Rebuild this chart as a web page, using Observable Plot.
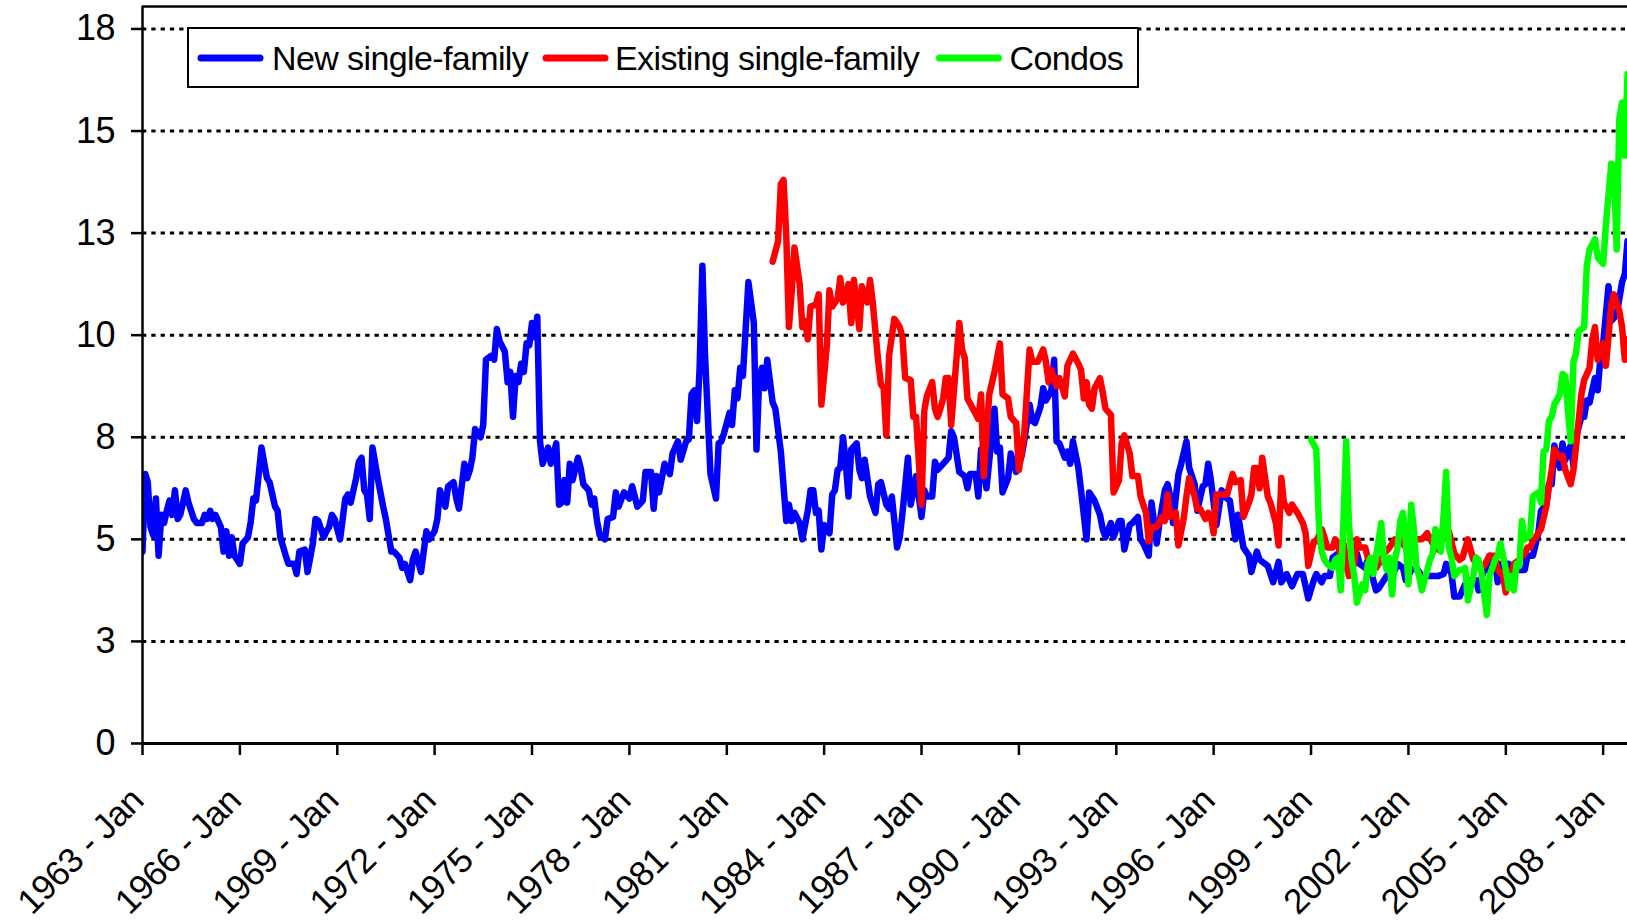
<!DOCTYPE html>
<html>
<head>
<meta charset="utf-8">
<script src="https://cdn.jsdelivr.net/npm/d3@7"></script>
<script src="https://cdn.jsdelivr.net/npm/@observablehq/plot@0.6"></script>
<style>
  html, body { margin: 0; padding: 0; background: #fff; }
  #chart { width: 1627px; height: 922px; overflow: hidden; }
</style>
</head>
<body>
<div id="chart"></div>
<script>
// Monthly series; first element of each pair = months since Jan 1963, second = value
const START_YEAR = 1963;
const END_MONTH = 549; // right edge of the visible plot (Oct 2008)

const newSingleFamily = [
[0,4.7],[1,6.6],[2,6.4],[3,5.3],[4,5.1],[5,6.0],[6,4.6],[7,5.6],[8,5.4],[9,5.7],[10,5.95],[11,5.6],[12,6.2],[13,5.5],[14,5.6],[15,5.9],[16,6.2],[17,5.9],[19,5.5],[20,5.4],[22,5.4],[23,5.6],[24,5.5],[25,5.7],[26,5.5],[27,5.6],[29,5.3],[30,4.7],[31,5.2],[32,4.6],[33,5.05],[34,4.6],[36,4.4],[37,4.9],[39,5.05],[40,5.4],[41,6.0],[42,5.95],[44,7.25],[46,6.5],[47,6.4],[49,5.8],[50,5.7],[51,5.05],[53,4.6],[54,4.4],[56,4.4],[57,4.15],[58,4.7],[60,4.75],[61,4.2],[63,4.9],[64,5.5],[65,5.45],[67,5.05],[68,5.2],[69,5.3],[70,5.6],[71,5.5],[73,5.0],[75,6.0],[76,6.1],[77,5.9],[79,6.5],[80,6.9],[81,7.0],[82,6.2],[83,6.1],[84,5.5],[85,7.25],[87,6.5],[89,5.8],[90,5.5],[92,4.7],[93,4.7],[95,4.55],[96,4.3],[97,4.4],[99,4.0],[100,4.5],[101,4.7],[103,4.2],[105,5.2],[106,5.0],
[108,5.2],[109,5.5],[110,6.2],[112,5.8],[113,6.3],[115,6.4],[116,6.0],[117,5.75],[119,6.85],[120,6.5],[121,6.7],[122,7.0],[123,7.7],[125,7.5],[126,7.8],[127,9.4],[129,9.5],[130,9.4],[131,10.15],[132,9.85],[134,9.6],[135,8.85],[136,9.1],[137,8.0],[138,9.0],[139,8.85],[140,9.3],[141,9.1],[142,9.8],[143,9.75],[144,10.3],[145,9.95],[146,10.45],[147,7.4],[148,6.85],[150,7.25],[151,6.85],[153,7.35],[154,5.85],[155,5.9],[156,6.45],[157,5.9],[158,6.85],[159,6.45],[161,7.0],[162,6.75],[163,6.35],[165,6.2],[166,5.85],[167,6.0],[168,5.45],[169,5.1],[171,5.0],[172,5.5],[174,5.55],[175,6.15],[176,5.8],[178,6.15],[180,6.0],[181,6.3],[183,5.8],[185,5.95],[186,6.65],[188,6.65],[189,5.75],[190,6.55],[191,6.15],[193,6.85],[195,6.6],[196,7.1],[198,7.4],[199,6.95],[201,7.4],[202,7.45],[203,8.55],[204,8.65],[205,7.9],[206,9.2],[207,11.7],[208,9.5],[210,6.6],[212,6.0],[213,7.35],[214,7.4],[215,7.6],[217,8.1],
[218,7.8],[219,8.65],[220,8.45],[221,9.2],[222,9.0],[224,11.3],[226,10.3],[227,7.2],[228,8.95],[229,9.2],[230,8.7],[231,9.4],[233,8.35],[234,8.2],[236,7.15],[238,5.45],[239,5.85],[240,5.45],[241,5.65],[243,5.4],[244,5.0],[246,5.7],[247,6.2],[248,6.2],[249,5.65],[250,5.7],[251,4.75],[252,5.35],[254,5.15],[255,6.1],[256,6.2],[257,6.7],[258,6.75],[259,7.5],[260,6.85],[261,6.05],[262,7.2],[264,7.35],[265,6.7],[266,6.5],[267,6.95],[269,6.05],[271,5.65],[272,6.35],[273,6.4],[275,5.85],[276,5.75],[277,6.05],[279,4.8],[280,5.05],[281,5.65],[283,7.0],[284,5.85],[286,6.55],[288,5.55],[289,6.2],[290,6.05],[292,6.05],[293,6.9],[294,6.7],[296,6.85],[298,7.0],[299,7.65],[300,7.5],[302,6.65],[304,6.55],[305,6.25],[306,6.6],[308,6.6],[309,6.05],[310,7.2],[311,6.7],[312,6.25],[315,8.2],[316,7.15],[317,7.25],[318,6.15],[320,6.5],[321,7.1],[323,6.65],[325,7.05],[326,7.4],[328,8.3],
[329,7.9],[330,7.85],[332,8.25],[333,8.7],[334,8.4],[336,8.65],[337,9.4],[338,7.4],[339,7.35],[341,7.0],[342,7.15],[343,6.85],[344,7.4],[346,6.75],[347,6.2],[349,5.0],[350,6.15],[352,5.95],[354,5.6],[355,5.25],[356,5.05],[358,5.4],[359,5.05],[361,5.45],[362,5.45],[363,4.75],[365,5.35],[366,5.4],[368,5.55],[369,5.0],[370,4.9],[372,4.6],[373,5.9],[375,4.9],[376,5.4],[378,6.2],[379,6.35],[380,6.05],[381,5.4],[383,6.6],[384,6.85],[386,7.4],[387,6.75],[389,6.35],[390,5.7],[392,6.3],[393,6.35],[394,6.85],[395,6.45],[397,5.35],[399,6.2],[400,6.05],[402,5.95],[404,5.0],[405,5.6],[407,4.8],[409,4.6],[410,4.2],[412,4.7],[413,4.5],[416,4.35],[418,3.95],[420,4.45],[421,3.95],[423,4.15],[425,3.85],[427,4.15],[429,4.15],[431,3.55],[433,4.0],[434,4.15],[436,3.95],[437,4.1],
[439,4.1],[440,4.55],[442,4.65],[444,4.3],[446,4.5],[448,4.45],[449,4.65],[450,4.4],[452,4.3],[453,4.5],[455,4.0],[456,3.75],[457,3.8],[458,3.9],[460,4.1],[462,4.1],[464,4.4],[466,4.3],[467,4.0],[468,4.1],[469,4.25],[471,4.3],[473,4.1],[475,4.1],[477,4.1],[479,4.1],[481,4.15],[482,4.4],[484,4.15],[485,3.6],[487,3.6],[489,3.9],[491,4.0],[493,4.0],[494,3.75],[496,4.3],
[497,4.25],[498,4.6],[500,4.5],[501,3.95],[502,4.4],[504,4.4],[505,4.4],[506,4.25],[508,4.35],[509,4.25],[511,4.25],[512,4.6],[514,4.6],[516,5.15],[517,5.7],[519,5.85],[520,6.35],[521,6.35],[522,7.3],[524,6.75],[525,7.35],[526,6.95],[528,7.3],[529,6.8],[530,7.5],[532,8.0],[533,8.0],[534,8.4],[535,8.35],[537,8.95],[538,8.65],[539,9.45],[540,9.8],[542,11.2],[543,10.35],[545,10.5],[547,11.3],[548,11.5],[549,12.3]
];

const existingSingleFamily = [
[233,11.8],[235,12.3],[236,13.7],[237,13.8],[238,12.45],[239,10.2],[240,11.05],[241,12.15],[243,11.25],[244,10.2],[245,10.35],[246,9.9],[247,10.7],[249,10.75],[250,11.0],[251,8.3],[253,9.75],[254,11.1],[255,10.7],[257,10.9],[258,11.4],[259,10.8],[261,11.25],[262,10.3],[263,11.35],[265,10.15],[266,11.2],[268,10.8],[269,11.35],[270,10.8],[272,9.35],[273,8.8],[274,8.7],[275,7.55],[276,9.5],[278,10.4],[280,10.2],[281,9.95],[282,8.95],[284,8.9],[285,8.0],[286,8.0],[288,5.85],[289,8.15],[290,8.5],[292,8.85],[293,8.2],[294,8.0],[295,8.2],[296,8.45],[297,8.95],[298,8.95],[299,7.8],[302,10.3],[303,9.65],[304,9.45],[305,8.45],[307,8.2],[309,7.95],[310,8.55],[311,6.55],[313,8.55],[315,9.1],[317,9.8],[318,8.55],[320,8.45],[321,8.0],[323,7.85],[324,6.7],[326,7.55],[328,9.65],
[329,9.35],[331,9.35],[333,9.65],[334,9.35],[335,8.85],[336,9.15],[338,8.75],[339,8.95],[341,8.5],[342,9.25],[344,9.55],[346,9.3],[347,9.15],[348,8.45],[349,8.85],[350,8.3],[351,8.2],[352,8.7],[354,8.95],[355,8.6],[356,8.2],[358,8.05],[359,6.15],[361,6.45],[362,7.35],[363,7.55],[365,7.1],[366,6.55],[368,6.55],[369,6.05],[371,5.65],[372,4.95],[373,5.3],[375,5.3],[377,5.55],[378,5.45],[379,6.1],[380,5.55],[382,5.65],[383,4.85],[385,5.55],[386,6.05],[387,6.5],[389,6.05],[390,5.75],[391,5.75],[393,5.5],[394,5.65],[395,5.55],[396,5.15],[397,6.1],[399,6.1],[401,6.1],[403,6.6],[404,6.4],[406,6.45],[407,5.55],[409,5.9],[410,6.1],[411,6.75],[412,6.75],[413,6.25],[414,7.0],[416,6.05],[417,5.9],[419,5.4],[420,4.85],[421,6.5],[422,5.9],[424,5.65],[425,5.85],[427,5.65],[429,5.4],[430,5.15],[431,4.35],[433,4.95],[434,4.95],[436,5.25],[437,5.05],
[438,4.8],[440,4.8],[441,5.0],[442,4.9],[443,4.55],[444,4.9],[446,4.1],[448,4.4],[449,5.0],[450,4.8],[452,4.8],[453,4.55],[455,4.4],[456,4.3],[458,4.5],[459,4.65],[461,4.8],[463,5.0],[464,4.85],[465,5.0],[467,4.8],[469,4.75],[471,5.0],[473,5.0],[475,5.15],[477,4.9],[479,4.75],[481,5.05],[483,5.2],[485,4.65],[487,4.5],[488,4.55],[490,5.0],[492,4.5],[493,4.55],[495,4.3],
[496,4.35],[498,4.6],[500,4.6],[501,4.25],[503,4.1],[504,3.7],[506,4.15],[507,4.4],[509,4.5],[511,4.65],[512,4.8],[513,4.8],[514,4.95],[516,5.15],[517,5.25],[519,5.8],[520,6.3],[521,6.7],[522,7.2],[523,7.1],[524,7.0],[525,7.05],[526,6.7],[528,6.35],[529,6.7],[530,7.25],[532,8.55],[533,8.9],[535,9.2],[536,9.9],[537,10.2],[538,9.4],[540,9.8],[541,9.25],[542,9.95],[543,10.75],[544,11.0],[546,10.6],[547,10.2],[548,9.4],[549,9.9]
];

const condos = [
[432,7.45],[434,7.2],[435,5.3],[436,4.7],[437,4.5],[438,4.4],[440,4.3],[441,4.5],[442,4.55],[443,3.75],[444,5.45],[445,7.4],[446,5.45],[447,4.5],[448,4.1],[449,3.45],[451,3.9],[452,3.75],[453,4.4],[454,4.55],[455,4.15],[457,5.0],[458,5.4],[459,4.5],[460,4.25],[461,4.55],[462,3.65],[463,4.5],[464,4.8],[465,5.45],[466,5.65],[467,5.0],[468,3.9],[469,5.85],[470,5.3],[471,4.3],[472,4.1],[473,3.75],[475,4.25],[476,4.5],[477,4.65],[478,5.25],[480,4.7],[481,5.6],[482,6.65],[483,4.8],[484,4.55],[485,4.1],[487,4.25],[488,4.25],[489,4.3],[490,3.5],[492,4.1],[493,4.55],[494,4.5],[495,4.2],[497,3.15],[498,4.1],[500,4.5],[501,4.6],[502,4.9],[504,4.25],[505,3.8],[506,4.1],[507,3.75],[508,4.4],[509,4.35],[510,5.45],[511,5.0],[513,5.1],[514,6.05],[516,6.15],[517,5.9],[518,7.15],[519,7.2],[520,7.9],[521,8.0],[522,8.3],[524,8.55],[525,9.05],[526,9.0],[527,8.15],[528,7.4],[529,9.35],[530,9.55],[531,10.1],[533,10.2],[534,11.7],[535,12.1],[537,12.35],[538,11.9],[540,11.75],[541,12.7],[543,14.2],[544,14.15],[545,12.1],[546,15.3],[547,15.7],[548,14.4],[549,16.4]
];

const seriesNames = ["New single-family", "Existing single-family", "Condos"];
const seriesColors = ["#0000ff", "#ff0000", "#00ff00"];

const xTickYears = [1963,1966,1969,1972,1975,1978,1981,1984,1987,1990,1993,1996,1999,2002,2005,2008];
const xTickLabels = ["1963 - Jan","1966 - Jan","1969 - Jan","1972 - Jan","1975 - Jan","1978 - Jan","1981 - Jan","1984 - Jan","1987 - Jan","1990 - Jan","1993 - Jan","1996 - Jan","1999 - Jan","2002 - Jan","2005 - Jan","2008 - Jan"];
const yTicks = [0, 2.5, 5, 7.5, 10, 12.5, 15, 17.5];
const yTickLabels = ["0","3","5","8","10","13","15","18"];
const Y_MAX = 18.05;

const monthDate = m => new Date(Date.UTC(START_YEAR, m, 1));
const toRows = (pairs, name) => pairs.map(([m, v]) => ({date: monthDate(m), value: v, series: name}));
const rowsBySeries = [newSingleFamily, existingSingleFamily, condos].map((s, i) => toRows(s, seriesNames[i]));
const xTickDates = xTickYears.map(y => new Date(Date.UTC(y, 0, 1)));
const x0 = monthDate(0), x1 = monthDate(END_MONTH);

const FONT = "'Liberation Sans', Arial, sans-serif";

const chart = Plot.plot({
  width: 1627,
  height: 922,
  marginLeft: 142,
  marginRight: 0,
  marginTop: 6,
  marginBottom: 179,
  style: {fontFamily: FONT, background: "#fff", color: "#000", overflow: "visible"},
  x: {type: "utc", domain: [x0, x1]},
  y: {domain: [0, Y_MAX]},
  marks: [
    Plot.ruleY(yTicks.filter(d => d > 0), {stroke: "#000", strokeWidth: 3, strokeDasharray: "4.3,5"}),
    ...rowsBySeries.map((rows, i) => Plot.line(rows, {
      x: "date", y: "value", stroke: seriesColors[i], strokeWidth: 6.5,
      strokeLinejoin: "round", strokeLinecap: "round", clip: true
    })),
    Plot.ruleX([x0], {stroke: "#000", strokeWidth: 2.5}),
    Plot.ruleY([0], {stroke: "#000", strokeWidth: 3}),
    Plot.ruleY([Y_MAX], {stroke: "#000", strokeWidth: 2.5}),
    Plot.axisY({ticks: yTicks, tickSize: 11, tickFormat: () => "", label: null, strokeWidth: 2.5}),
    Plot.axisX({ticks: xTickDates, tickSize: 12, tickFormat: () => "", label: null, strokeWidth: 2.5}),
    Plot.text(yTicks, {
      y: d => d, text: (d, i) => yTickLabels[i], frameAnchor: "left", dx: -27.5,
      textAnchor: "end", lineAnchor: "middle", fontSize: 36, fill: "#000"
    }),
    Plot.text(xTickDates, {
      x: d => d, text: (d, i) => xTickLabels[i], frameAnchor: "bottom", dx: 3, dy: 59,
      rotate: -45, textAnchor: "end", lineAnchor: "bottom", fontSize: 35, fill: "#000"
    })
  ]
});

document.getElementById("chart").appendChild(chart);

// Legend box (inside the plot area, top-left)
const svg = d3.select(chart);
svg.selectAll("text").style("letter-spacing", "-0.5px");
const lg = svg.append("g").attr("font-family", FONT).attr("text-anchor", "start");
lg.append("rect").attr("x", 188).attr("y", 28).attr("width", 950).attr("height", 59)
  .attr("fill", "#fff").attr("stroke", "#000").attr("stroke-width", 2);
const swatchX = [201, 546, 939.5];
const textX = [272, 615, 1009.5];
seriesNames.forEach((name, i) => {
  lg.append("line").attr("x1", swatchX[i]).attr("x2", swatchX[i] + 59)
    .attr("y1", 58).attr("y2", 58)
    .attr("stroke", seriesColors[i]).attr("stroke-width", 7).attr("stroke-linecap", "round");
  lg.append("text").attr("x", textX[i]).attr("y", 70).attr("text-anchor", "start")
    .attr("font-size", 34).style("letter-spacing", "-0.6px").attr("fill", "#000").text(name);
});
</script>
</body>
</html>
